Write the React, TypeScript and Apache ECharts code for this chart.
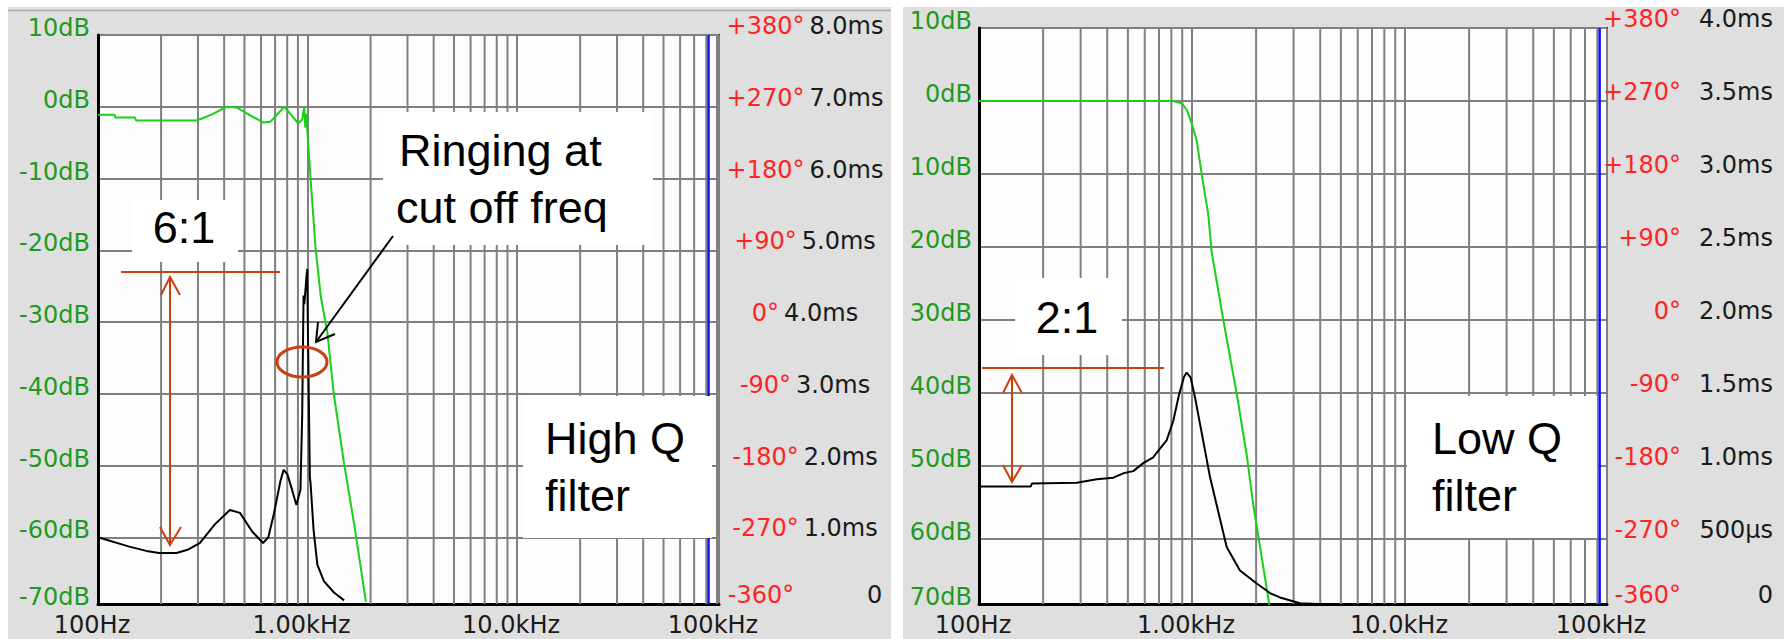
import React, { useEffect, useRef } from "react";
import * as echarts from "echarts";

// ---------------- data ----------------
const dbLabelsHighQ = ["-70dB", "-60dB", "-50dB", "-40dB", "-30dB", "-20dB", "-10dB", "0dB", "10dB"];
const dbLabelsLowQ = ["70dB", "60dB", "50dB", "40dB", "30dB", "20dB", "10dB", "0dB", "10dB"];
const phaseLabels = ["-360°", "-270°", "-180°", "-90°", "0°", "+90°", "+180°", "+270°", "+380°"];
const timeLabelsHighQ = ["0", "1.0ms", "2.0ms", "3.0ms", "4.0ms", "5.0ms", "6.0ms", "7.0ms", "8.0ms"];
const timeLabelsLowQ = ["0", "500µs", "1.0ms", "1.5ms", "2.0ms", "2.5ms", "3.0ms", "3.5ms", "4.0ms"];
const freqLabels = ["100Hz", "1.00kHz", "10.0kHz", "100kHz"];
const minorGridFreqs = [
  200, 300, 400, 500, 600, 700, 800, 900,
  2000, 3000, 4000, 5000, 6000, 7000, 8000, 9000,
  20000, 30000, 40000, 50000, 60000, 70000, 80000, 90000,
];
const markerFreq = 82000;

// High Q filter: magnitude (green) and ringing trace (black)
const highQMagFreq = [100, 120, 121, 150, 152, 295, 316, 354, 411, 459, 532, 617, 664, 775, 828, 902, 943, 965, 975, 985, 1034, 1093, 1155, 1244, 1334, 1490, 1670, 1900];
const highQMagDb = [-1.1, -1.1, -1.5, -1.5, -1.9, -1.9, -1.6, -1.0, 0, -0.1, -1.2, -2.2, -2.1, 0, -1.0, -2.3, -1.8, 0, -2.9, -1.0, -10, -19.8, -26.3, -31.5, -40, -49.5, -58.2, -69];
const highQRingFreq = [100, 141, 170, 196, 237, 270, 306, 361, 426, 476, 544, 614, 650, 689, 742, 769, 801, 844, 885, 925, 943, 957, 965, 990, 997, 1003, 1026, 1034, 1069, 1114, 1197, 1337, 1495];
const highQRingDb = [-60, -61.3, -61.9, -62.2, -62.2, -61.7, -60.8, -58.2, -56.2, -56.6, -59.2, -60.8, -60, -56.9, -52.2, -50.6, -51.2, -53.4, -55.5, -53.4, -43, -26.3, -27.5, -23.5, -22.6, -30, -51.7, -52.5, -59, -63.8, -66.1, -67.7, -68.8];

// Low Q filter
const lowQMagFreq = [100, 814, 895, 945, 997, 1052, 1110, 1193, 1237, 1403, 1622, 1807, 1941, 2048, 2307];
const lowQMagDb = [0, 0, -0.3, -1.2, -3.1, -5.4, -10, -15.6, -20.7, -30, -40.1, -48.5, -55.4, -59.6, -69];
const lowQRingFreq = [100, 175, 177, 288, 357, 427, 476, 530, 590, 658, 682, 760, 817, 871, 917, 944, 986, 1033, 1111, 1215, 1455, 1679, 2013, 2323, 2588, 3214, 4797];
const lowQRingDb = [-52.8, -52.8, -52.4, -52.3, -51.8, -51.6, -51.0, -50.7, -49.6, -48.8, -48.2, -46.5, -43.8, -40.1, -37.8, -37.2, -37.9, -40.6, -45.5, -51.5, -61.1, -64.3, -66.1, -67.4, -68.0, -68.8, -69.0];

// ---------------- styles ----------------
const FONT = "'DejaVu Sans', sans-serif";
const ANNO_FONT = "'Liberation Sans', Arial, sans-serif";
const GRID_COLOR = "#808080";
const PANEL_BG = "#dfdfdf";
const PLOT_BG = "#fdfdfd";
const GREEN_LINE = "#18d018";
const GREEN_TEXT = "#1f9a1f";
const RED_TEXT = "#ff2424";
const ANNO_RED = "#cc4010";

const panels = [
  {
    left: 98, top: 35, width: 621, height: 569, xMax: 92000, yMin: -69.3,
    dbLabels: dbLabelsHighQ, timeLabels: timeLabelsHighQ, dbMargin: 8, centered: true, rightMargin: 86,
    magF: highQMagFreq, magD: highQMagDb, ringF: highQRingFreq, ringD: highQRingDb,
  },
  {
    left: 979, top: 28, width: 628, height: 576, xMax: 88800, yMin: -68.9,
    dbLabels: dbLabelsLowQ, timeLabels: timeLabelsLowQ, dbMargin: 7, centered: false, rightMargin: 166,
    magF: lowQMagFreq, magD: lowQMagDb, ringF: lowQRingFreq, ringD: lowQRingDb,
  },
];

const dbIndex = (v: number) => Math.max(0, Math.min(8, Math.round((v + 70) / 10)));
const freqIndex = (v: number) => Math.max(0, Math.min(3, Math.round(Math.log10(v)) - 2));

function rightAxisLabel(p: any) {
  if (p.centered) {
    return {
      showMinLabel: true, showMaxLabel: true, margin: p.rightMargin, align: "center",
      padding: [0, 0, 18, 0],
      formatter: (v: number) => {
        const k = dbIndex(v);
        if (k === 0) return `{p|${phaseLabels[k]}}{z|${p.timeLabels[k]}}`;
        return `{p|${phaseLabels[k]}}{s| }{t|${p.timeLabels[k]}}`;
      },
      rich: {
        p: { color: RED_TEXT, fontSize: 24, fontFamily: FONT },
        s: { fontSize: 24, fontFamily: FONT, width: 5 },
        t: { color: "#1a1a1a", fontSize: 24, fontFamily: FONT },
        z: { color: "#1a1a1a", fontSize: 24, fontFamily: FONT, width: 88, align: "right" },
      },
    };
  }
  return {
    showMinLabel: true, showMaxLabel: true, margin: p.rightMargin, align: "right",
    padding: [0, 0, 18, 0],
    formatter: (v: number) => {
      const k = dbIndex(v);
      return `{p|${phaseLabels[k]}}{s| }{t|${p.timeLabels[k]}}`;
    },
    rich: {
      p: { color: RED_TEXT, fontSize: 24, fontFamily: FONT, width: 80, align: "right" },
      s: { fontSize: 24, fontFamily: FONT, width: 12 },
      t: { color: "#1a1a1a", fontSize: 24, fontFamily: FONT, width: 80, align: "right" },
    },
  };
}

function buildOption() {
  const grid: any[] = [];
  const xAxis: any[] = [];
  const yAxis: any[] = [];
  const series: any[] = [];

  panels.forEach((p, i) => {
    grid.push({
      left: p.left, top: p.top, width: p.width, height: p.height,
      show: true, backgroundColor: PLOT_BG, borderColor: "#111", borderWidth: 2,
    });
    xAxis.push({
      type: "log", logBase: 10, gridIndex: i, min: 100, max: p.xMax,
      axisLine: { show: true, onZero: false, lineStyle: { color: "#000", width: 3 } },
      axisTick: { show: false },
      minorTick: { show: false },
      splitLine: { show: true, lineStyle: { color: GRID_COLOR, width: 2 } },
      axisLabel: {
        show: true, showMinLabel: true, showMaxLabel: true, margin: 9,
        padding: [0, 12, 0, 0],
        formatter: (v: number) => `{x|${freqLabels[freqIndex(v)]}}`,
        rich: { x: { color: "#1a1a1a", fontSize: 24, fontFamily: FONT } },
      },
    });
    yAxis.push({
      type: "value", gridIndex: i, min: p.yMin, max: 10, splitNumber: 8,
      axisLine: { show: true, onZero: false, lineStyle: { color: "#000", width: 3 } },
      axisTick: { show: false },
      splitLine: { show: true, lineStyle: { color: GRID_COLOR, width: 2 } },
      axisLabel: {
        showMinLabel: true, showMaxLabel: true, margin: p.dbMargin,
        padding: [0, 0, 14, 0],
        formatter: (v: number) => `{d|${p.dbLabels[dbIndex(v)]}}`,
        rich: { d: { color: GREEN_TEXT, fontSize: 24, fontFamily: FONT } },
      },
    });
    yAxis.push({
      type: "value", gridIndex: i, position: "right", min: p.yMin, max: 10, splitNumber: 8,
      axisLine: { show: false }, axisTick: { show: false }, splitLine: { show: false },
      axisLabel: rightAxisLabel(p),
    });

    const yMin = p.yMin;
    // minor vertical grid lines (2..9 per decade)
    series.push({
      type: "custom", xAxisIndex: i, yAxisIndex: i * 2, z: 1, silent: true, clip: true,
      data: minorGridFreqs.filter((f) => f < p.xMax).map((f) => [f, 0]),
      encode: { x: 0, y: 1 },
      renderItem: (params: any, api: any) => {
        const f = api.value(0);
        const a = api.coord([f, 10]);
        const b = api.coord([f, yMin]);
        return {
          type: "line",
          shape: { x1: a[0], y1: a[1], x2: b[0], y2: b[1] },
          style: { stroke: GRID_COLOR, lineWidth: 2 },
        };
      },
    });
    // blue marker line
    series.push({
      type: "custom", xAxisIndex: i, yAxisIndex: i * 2, z: 2, silent: true,
      data: [[markerFreq, 0]],
      encode: { x: 0, y: 1 },
      renderItem: (params: any, api: any) => {
        const f = api.value(0);
        const a = api.coord([f, 10]);
        const b = api.coord([f, yMin]);
        return {
          type: "line",
          shape: { x1: a[0], y1: a[1], x2: b[0], y2: b[1] },
          style: { stroke: "#1010ff", lineWidth: 2.5 },
        };
      },
    });
    series.push({
      type: "line", xAxisIndex: i, yAxisIndex: i * 2, z: 3, silent: true, clip: true,
      showSymbol: false, symbol: "none",
      data: p.magF.map((f, k) => [f, p.magD[k]]),
      lineStyle: { color: GREEN_LINE, width: 2 },
    });
    series.push({
      type: "line", xAxisIndex: i, yAxisIndex: i * 2, z: 4, silent: true, clip: true,
      showSymbol: false, symbol: "none",
      data: p.ringF.map((f, k) => [f, p.ringD[k]]),
      lineStyle: { color: "#000", width: 2 },
    });
  });

  const Z = 50;
  const txt = (text: string, x: number, y: number, align = "left") => ({
    type: "text", z: Z + 2, silent: true,
    style: { text, x, y, fill: "#000", fontSize: 45, fontFamily: ANNO_FONT, align, verticalAlign: "middle" },
  });
  const box = (x: number, y: number, w: number, h: number) => ({
    type: "rect", z: Z, silent: true, shape: { x, y, width: w, height: h }, style: { fill: "#ffffff" },
  });
  const redLine = (x1: number, y1: number, x2: number, y2: number) => ({
    type: "line", z: Z + 3, silent: true, shape: { x1, y1, x2, y2 }, style: { stroke: ANNO_RED, lineWidth: 2 },
  });
  const redHead = (pts: number[][]) => ({
    type: "polyline", z: Z + 3, silent: true, shape: { points: pts }, style: { stroke: ANNO_RED, lineWidth: 2, fill: "none" },
  });

  const graphic: any[] = [
    // panel backgrounds
    { type: "rect", z: -10, silent: true, shape: { x: 8, y: 7, width: 883, height: 632 }, style: { fill: PANEL_BG } },
    { type: "rect", z: -10, silent: true, shape: { x: 903, y: 7, width: 881, height: 632 }, style: { fill: PANEL_BG } },
    { type: "line", z: -9, silent: true, shape: { x1: 8, y1: 10.5, x2: 891, y2: 10.5 }, style: { stroke: "#a9a9a9", lineWidth: 1.5 } },

    // ---- left panel annotations ----
    box(132, 200, 106, 62),
    txt("6:1", 184, 227, "center"),
    redLine(121, 272, 280, 272),
    redLine(170, 278, 170, 544),
    redHead([[161, 295], [170, 277], [180, 295]]),
    redHead([[160, 527], [170, 545], [181, 527]]),

    box(383, 112, 270, 133),
    txt("Ringing at", 399, 150),
    txt("cut off freq", 396, 207),
    {
      type: "line", z: Z + 3, silent: true, shape: { x1: 393, y1: 236, x2: 316, y2: 342 },
      style: { stroke: "#000", lineWidth: 2 },
    },
    {
      type: "polyline", z: Z + 3, silent: true, shape: { points: [[318, 322], [316, 342], [335, 334]] },
      style: { stroke: "#000", lineWidth: 2, fill: "none" },
    },
    {
      type: "ellipse", z: Z + 3, silent: true, shape: { cx: 302, cy: 362, rx: 25, ry: 15 },
      style: { stroke: ANNO_RED, lineWidth: 3, fill: "none" },
    },

    box(523, 396, 189, 142),
    txt("High Q", 545, 438),
    txt("filter", 545, 495),

    // ---- right panel annotations ----
    box(1015, 278, 107, 77),
    txt("2:1", 1067, 317, "center"),
    redLine(982, 368, 1164, 368),
    redLine(1012, 377, 1012, 480),
    redHead([[1003, 393], [1012, 375], [1022, 393]]),
    redHead([[1003, 465], [1012, 482], [1022, 465]]),

    box(1407, 396, 190, 142),
    txt("Low Q", 1432, 438),
    txt("filter", 1432, 495),
  ];

  return {
    animation: false,
    backgroundColor: "#ffffff",
    grid, xAxis, yAxis, series, graphic,
  };
}

export default function App() {
  const ref = useRef<HTMLDivElement>(null);
  useEffect(() => {
    if (!ref.current) return;
    const chart = echarts.init(ref.current, undefined, { renderer: "svg", width: 1784, height: 639 });
    chart.setOption(buildOption() as any);
    return () => chart.dispose();
  }, []);
  return (
    <div
      ref={ref}
      style={{ position: "absolute", left: 0, top: 0, width: 1784, height: 639 }}
    />
  );
}
